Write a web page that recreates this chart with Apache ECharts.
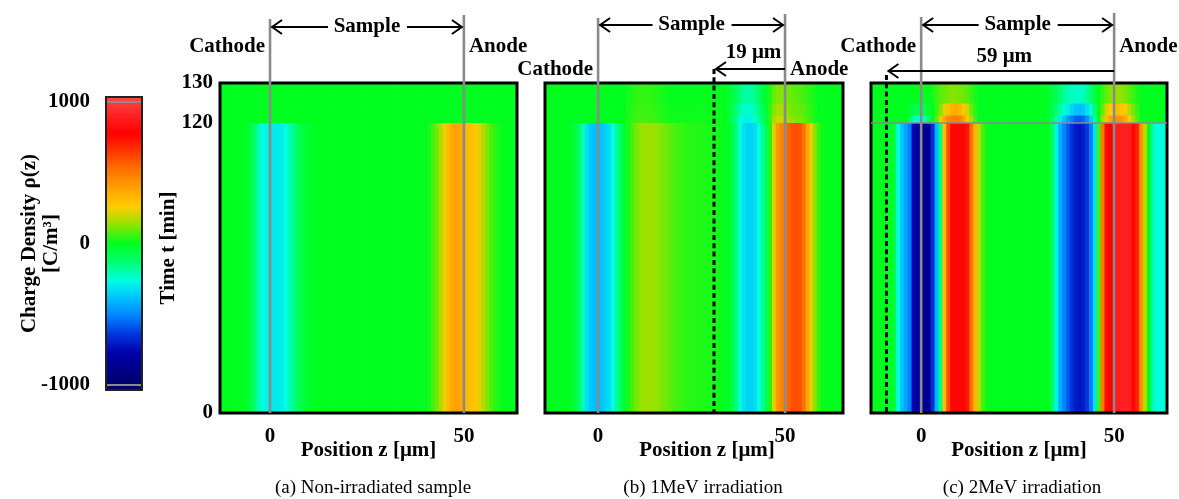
<!DOCTYPE html>
<html><head><meta charset="utf-8">
<script src="https://cdn.jsdelivr.net/npm/echarts@6/dist/echarts.min.js"></script>
<style>html,body{margin:0;padding:0;background:#fff}#c{width:1179px;height:499px}</style>
</head><body><div id="c"></div><script>
// ---------- DATA ----------
// sample positions z [µm] (cell centres, 1 µm resolution)
const zAC = [-13,-12,-11,-10,-9,-8,-7,-6,-5,-4,-3,-2,-1,0,1,2,3,4,5,6,7,8,9,10,11,12,13,14,15,16,17,18,19,20,21,22,23,24,25,26,27,28,29,30,31,32,33,34,35,36,37,38,39,40,41,42,43,44,45,46,47,48,49,50,51,52,53,54,55,56,57,58,59,60,61,62,63,64];
const zB = [-15,-14,-13,-12,-11,-10,-9,-8,-7,-6,-5,-4,-3,-2,-1,0,1,2,3,4,5,6,7,8,9,10,11,12,13,14,15,16,17,18,19,20,21,22,23,24,25,26,27,28,29,30,31,32,33,34,35,36,37,38,39,40,41,42,43,44,45,46,47,48,49,50,51,52,53,54,55,56,57,58,59,60,61,62,63,64,65,66];
// time bands [min]: voltage-on period and three bands after voltage removal
const tMain = [0, 120];
const tTop = [[120, 122], [122, 125], [125, 130]];
// charge density rho(z) [C/m^3]
const aMain = [0,0,0,0,0,0,0,-20,-60,-120,-200,-260,-280,-290,-300,-300,-290,-260,-210,-160,-110,-70,-40,-20,-10,
  0,0,0,0,0,0,0,0,0,0,0,0,0,0,0,0,0,0,0,0,0,0,0,0,0,0,0,0,0,
  20,60,110,170,240,320,370,390,380,350,310,290,270,230,170,120,70,40,20,0,0,0,0,0];
const aTop = [0,0,0,0,0,0,0,0,0,0,0,0,0,0,0,0,0,0,0,0,0,0,0,0,0,0,0,0,0,0,0,0,0,0,0,0,0,0,0,0,0,0,0,0,0,0,0,0,0,0,0,0,0,0,0,0,0,0,0,0,0,0,0,0,0,0,0,0,0,0,0,0,0,0,0,0,0,0];
const bMain = [0,0,0,0,0,0,0,0,-20,-60,-120,-220,-320,-370,-390,-390,-380,-350,-320,-260,-180,-100,-30,
  20,60,100,130,145,150,150,145,135,120,105,90,75,62,52,45,40,35,32,30,28,25,22,20,15,10,
  0,-20,-70,-150,-250,-320,-350,-350,-330,-260,-170,-80,30,220,420,470,500,560,590,600,590,520,380,230,120,50,10,
  0,0,0,0,0,0];
const bTop1 = [0,0,0,0,0,0,0,0,0,0,0,0,0,0,0,0,0,0,0,0,0,0,0,
  25,45,60,65,65,65,60,55,45,35,25,
  15,15,15,15,15,15,15,15,15,15,15,15,15,15,15,
  0,-40,-100,-170,-240,-280,-290,-280,-240,-180,-110,-40,50,150,200,200,170,150,130,120,110,95,70,45,20,
  0,0,0,0,0,0,0,0];
const bTop2 = [0,0,0,0,0,0,0,0,0,0,0,0,0,0,0,0,0,0,0,0,0,0,0,
  20,40,50,55,55,55,50,45,40,30,20,
  10,10,10,10,10,10,10,10,10,10,10,10,10,10,10,
  0,-30,-80,-140,-200,-230,-240,-230,-200,-150,-90,-30,40,120,160,160,140,120,110,100,90,80,60,40,20,
  0,0,0,0,0,0,0,0];
const bTop3 = [0,0,0,0,0,0,0,0,0,0,0,0,0,0,0,0,0,0,0,0,0,0,0,
  15,30,40,45,45,45,40,35,30,20,15,
  5,5,5,5,5,5,5,5,5,5,5,5,5,5,5,
  0,-20,-60,-100,-150,-180,-190,-180,-150,-110,-60,-20,30,90,120,120,110,100,90,80,70,60,45,30,15,
  0,0,0,0,0,0,0,0];
const cMain = [0,0,0,0,0,0,-60,-250,-380,-440,-520,-760,-820,-860,
  -880,-850,-650,-400,-150,300,600,760,800,800,790,720,520,330,180,60,10,
  0,0,0,0,0,0,0,0,0,0,0,0,0,0,0,0,
  -120,-280,-420,-500,-580,-650,-700,-720,-700,-640,-520,-320,50,500,750,780,800,880,900,900,890,800,700,430,180,0,-200,-260,-260,-250,-250];
const cTop1 = [0,0,0,0,0,0,0,0,0,0,
  -100,-200,-260,-260,-200,-100,0,80,220,360,450,480,490,470,400,280,150,60,
  0,0,0,0,0,0,0,0,0,0,0,0,0,0,0,0,0,0,
  -40,-100,-200,-300,-380,-450,-520,-570,-580,-560,-480,-360,-180,0,150,300,390,430,440,420,350,250,150,70,
  0,0,0,0,0,0,0,0];
const cTop2 = [0,0,0,0,0,0,0,0,0,0,
  -30,-60,-80,-80,-60,-30,0,50,120,220,300,340,350,330,280,200,100,40,
  0,0,0,0,0,0,0,0,0,0,0,0,0,0,0,0,0,0,
  -30,-70,-130,-190,-240,-290,-340,-380,-390,-380,-320,-240,-120,0,100,200,260,290,300,280,240,170,100,50,
  0,0,0,0,0,0,0,0];
const cTop3 = [0,0,0,0,0,0,0,0,0,0,0,0,0,0,0,0,
  20,50,80,100,110,120,120,110,100,80,50,20,
  0,0,0,0,0,0,0,0,0,0,0,0,0,0,0,0,0,0,
  -20,-50,-90,-130,-170,-200,-220,-230,-230,-220,-180,-120,-60,0,50,90,120,140,140,130,110,80,50,20,
  0,0,0,0,0,0,0,0];
const cathodeZ = 0, anodeZ = 50;
const shiftFromAnode = [null, 19, 59];          // µm
const xTicks = [0, 50];
const yTicksMain = [0, 120];
const yTicksTop = [130];
const cbTicks = [-1000, 0, 1000];
const captions = ['(a) Non-irradiated sample', '(b) 1MeV irradiation', '(c) 2MeV irradiation'];

const panels = [
  {z: zAC, main: aMain, top: [aTop, aTop, aTop]},
  {z: zB, main: bMain, top: [bTop1, bTop2, bTop3]},
  {z: zAC, main: cMain, top: [cTop1, cTop2, cTop3]}
];

// ---------- LAYOUT ----------
const F = '"Liberation Serif","Times New Roman",serif';
const layout = [
  {left: 220, width: 297, min: -12.9, max: 63.7, sampleY: 27, top0: 19, top50: 15, electY: 47, capX: 373, nameShift: 0},
  {left: 545, width: 298, min: -14.2, max: 65.5, sampleY: 25, top0: 18, top50: 14, electY: 70, capX: 703, nameShift: 26, shiftY: 69, shiftTextY: 53, dashTop: 69},
  {left: 871, width: 296, min: -13.0, max: 63.7, sampleY: 25, top0: 17, top50: 13, electY: 47, capX: 1022, nameShift: 0, shiftY: 71, shiftTextY: 57, dashTop: 75}
];
const dz = 1;
const bold21 = {fontFamily: F, fontWeight: 'bold', fontSize: 21, color: '#000'};

function renderCell(params, api) {
  const z = api.value(0), t0 = api.value(1), t1 = api.value(2);
  const p0 = api.coord([z - dz / 2, t1]);
  const p1 = api.coord([z + dz / 2, t0]);
  const cs = params.coordSys;
  const shape = echarts.graphic.clipRectByRect(
    {x: p0[0], y: p0[1] - 0.5, width: p1[0] - p0[0] + 0.7, height: p1[1] - p0[1] + 1},
    {x: cs.x, y: cs.y, width: cs.width, height: cs.height});
  if (!shape) return;
  return {type: 'rect', shape: shape, style: {fill: api.visual('color')}};
}

const grids = [], xAxes = [], yAxes = [], series = [];
panels.forEach((p, i) => {
  const L = layout[i];
  const g = 3 * i;
  grids.push({left: L.left, top: 83, width: L.width, height: 330, show: true, borderColor: '#000', borderWidth: 3, backgroundColor: 'transparent', z: 10, outerBoundsMode: 'none'});
  grids.push({left: L.left, top: 123, width: L.width, height: 290, outerBoundsMode: 'none'});
  grids.push({left: L.left, top: 83, width: L.width, height: 40, outerBoundsMode: 'none'});
  xAxes.push({gridIndex: g, type: 'value', min: L.min, max: L.max,
    axisLine: {show: false}, axisTick: {show: false}, splitLine: {show: false},
    axisLabel: Object.assign({customValues: xTicks, margin: 13, formatter: v => String(v)}, bold21),
    name: 'Position z [μm]', nameLocation: 'middle', nameGap: 27, nameMoveOverlap: false,
    nameTextStyle: Object.assign({padding: [0, 0, 0, L.nameShift]}, bold21)});
  xAxes.push({gridIndex: g + 1, type: 'value', min: L.min, max: L.max, show: false});
  xAxes.push({gridIndex: g + 2, type: 'value', min: L.min, max: L.max, show: false});
  yAxes.push({gridIndex: g, type: 'value', min: 0, max: 1,
    axisLine: {show: false}, axisTick: {show: false}, axisLabel: {show: false}, splitLine: {show: false},
    name: i === 0 ? 'Time t [min]' : '', nameLocation: 'middle', nameRotate: 90, nameGap: 41, nameMoveOverlap: false,
    nameTextStyle: bold21});
  yAxes.push({gridIndex: g + 1, type: 'value', min: tMain[0], max: tMain[1], show: i === 0,
    axisLine: {show: false}, axisTick: {show: false}, splitLine: {show: false},
    axisLabel: Object.assign({customValues: yTicksMain, margin: 7, formatter: v => String(v)}, bold21)});
  yAxes.push({gridIndex: g + 2, type: 'value', min: tTop[0][0], max: tTop[tTop.length - 1][1], show: i === 0,
    axisLine: {show: false}, axisTick: {show: false}, splitLine: {show: false},
    axisLabel: Object.assign({customValues: yTicksTop, margin: 7, formatter: v => String(v)}, bold21)});
  series.push({type: 'custom', xAxisIndex: g + 1, yAxisIndex: g + 1, renderItem: renderCell, silent: true,
    encode: {x: 0, y: [1, 2]},
    data: p.z.map((z, k) => [z, tMain[0], tMain[1], p.main[k]])});
  let topData = [];
  tTop.forEach((band, r) => { topData = topData.concat(p.z.map((z, k) => [z, band[0], band[1], p.top[r][k]])); });
  series.push({type: 'custom', xAxisIndex: g + 2, yAxisIndex: g + 2, renderItem: renderCell, silent: true,
    encode: {x: 0, y: [1, 2]}, data: topData});
});
// colour-bar frame + labels
grids.push({left: 106, top: 97, width: 36, height: 293, show: true, borderColor: '#222', borderWidth: 2, backgroundColor: 'transparent', z: 10, outerBoundsMode: 'none'});
xAxes.push({gridIndex: 9, type: 'value', min: 0, max: 1, show: false});
yAxes.push({gridIndex: 9, type: 'value', min: -1035, max: 1035,
  axisLine: {show: false}, axisTick: {show: false}, splitLine: {show: false},
  axisLabel: Object.assign({customValues: cbTicks, margin: 16, formatter: v => String(v)}, bold21),
  name: 'Charge Density ρ(z)\n[C/m³]', nameLocation: 'middle', nameRotate: 90, nameGap: 43, nameMoveOverlap: false,
  nameTextStyle: Object.assign({lineHeight: 22}, bold21)});

const chart = echarts.init(document.getElementById('c'), null, {renderer: 'canvas'});
chart.setOption({
  animation: false,
  backgroundColor: '#fff',
  grid: grids, xAxis: xAxes, yAxis: yAxes, series: series,
  visualMap: {
    type: 'continuous', min: -1035, max: 1035, dimension: 3, seriesIndex: [0, 1, 2, 3, 4, 5],
    calculable: false, show: true, left: 106, top: 97, itemWidth: 36, itemHeight: 293, padding: 0,
    text: null, hoverLink: false,
    inRange: {color: ['#000060', '#000085', '#0000aa', '#0033dd', '#0080ff', '#00c0ff', '#00ffe0', '#00ff70', '#00ff1e',
      '#8ce400', '#ffcc00', '#ffa200', '#ff7400', '#ff3800', '#ff0000', '#ff2222', '#ff4848']}
  }
});

// ---------- ANNOTATIONS (positions via the axes) ----------
const els = [];
const px = (ai, v) => chart.convertToPixel({xAxisIndex: ai}, v);
const py = (ai, v) => chart.convertToPixel({yAxisIndex: ai}, v);
const txt = (x, y, s, align, font) => ({type: 'text', z: 100, x: x, y: y,
  style: {text: s, font: font || ('bold 21px ' + F), fill: '#000', align: align, verticalAlign: 'middle'}});
const seg = (x1, y1, x2, y2, stroke, w, dash) => ({type: 'line', z: 100,
  shape: {x1: x1, y1: y1, x2: x2, y2: y2}, style: {stroke: stroke, lineWidth: w, lineDash: dash || null}});
const head = (x, y, dir) => ({type: 'polyline', z: 100,
  shape: {points: [[x + dir * 10, y - 7], [x, y], [x + dir * 10, y + 7]]}, style: {stroke: '#000', lineWidth: 2, fill: null}});

layout.forEach((L, i) => {
  const g = 3 * i;
  const x0 = px(g, cathodeZ), x50 = px(g, anodeZ);
  const yBot = py(g + 1, tMain[0]);
  els.push(seg(x0, L.top0, x0, yBot, '#8a8a8a', 2.6));
  els.push(seg(x50, L.top50, x50, yBot, '#8a8a8a', 2.6));
  const xm = (x0 + x50) / 2;
  els.push(seg(x0 + 2, L.sampleY, xm - 39, L.sampleY, '#000', 2));
  els.push(seg(xm + 40, L.sampleY, x50 - 2, L.sampleY, '#000', 2));
  els.push(head(x0 + 2, L.sampleY, 1));
  els.push(head(x50 - 2, L.sampleY, -1));
  els.push(txt(xm, L.sampleY, 'Sample', 'center'));
  els.push(txt(x0 - 5, L.electY, 'Cathode', 'right'));
  els.push(txt(x50 + 5, L.electY, 'Anode', 'left'));
  if (shiftFromAnode[i] != null) {
    const xd = px(g, anodeZ - shiftFromAnode[i]);
    els.push(seg(xd, L.dashTop, xd, yBot - 1, '#000', 3, [5, 3.3]));
    els.push(seg(xd + 2, L.shiftY, x50, L.shiftY, '#000', 2));
    els.push(head(xd + 2, L.shiftY, 1));
    els.push(txt((xd + x50) / 2 + 4, L.shiftTextY, shiftFromAnode[i] + ' μm', 'center'));
  }
  if (i === 2) {
    const y120 = py(g + 1, tMain[1]);
    els.push(seg(px(g, L.min), y120, px(g, L.max), y120, '#8a8a8a', 1.4));
  }
  els.push(txt(L.capX, 488, captions[i], 'center', '19px ' + F));
});
// colour-bar marks at ±1000
[1000, -1000].forEach(v => {
  const y = py(9, v);
  els.push(seg(px(9, 0) + 1, y, px(9, 1) - 1, y, '#8a8a8a', 2));
});
chart.setOption({graphic: {elements: els}});
</script></body></html>
